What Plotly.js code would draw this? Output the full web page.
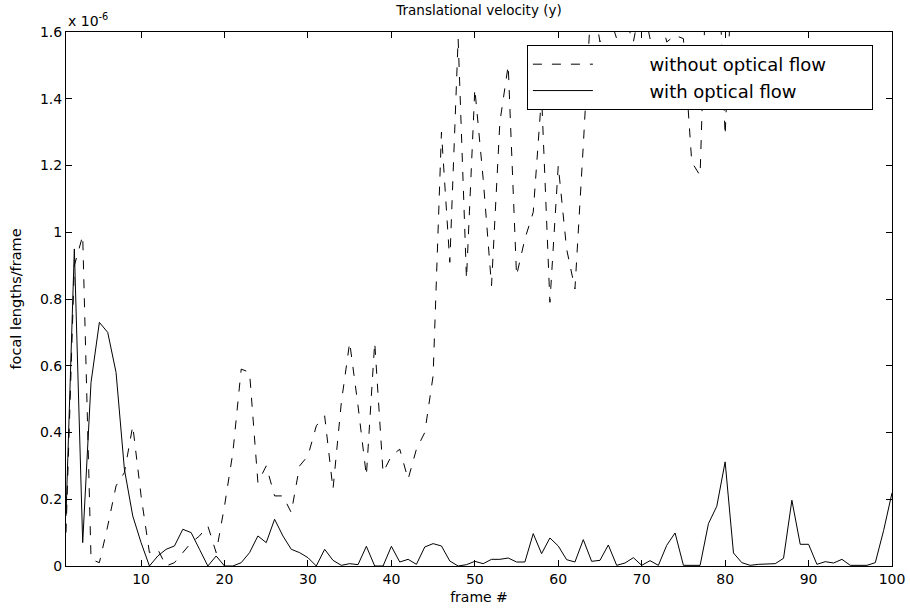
<!DOCTYPE html>
<html>
<head>
<meta charset="utf-8">
<script src="https://cdn.plot.ly/plotly-3.0.1.min.js"></script>
<style>html,body{margin:0;padding:0;background:#fff;}</style>
</head>
<body>
<div id="chart" style="width:910px;height:612px;"></div>
<script>
// frame numbers
var frames = [1,2,3,4,5,6,7,8,9,10,11,12,13,14,15,16,17,18,19,20,
  21,22,23,24,25,26,27,28,29,30,31,32,33,34,35,36,37,38,39,40,
  41,42,43,44,45,46,47,48,49,50,51,52,53,54,55,56,57,58,59,60,
  61,62,63,64,65,66,67,68,69,70,71,72,73,74,75,76,77,78,79,80,
  81,82,83,84,85,86,87,88,89,90,91,92,93,94,95,96,97,98,99,100];

// values in units of 1e-6 focal lengths/frame
var withoutFlow = [0.10,0.90,0.99,0.02,0.01,0.12,0.24,0.28,0.42,0.21,
  0.04,0.05,0.00,0.01,0.04,0.07,0.09,0.12,0.04,0.18,
  0.34,0.59,0.58,0.25,0.30,0.21,0.21,0.16,0.30,0.33,
  0.42,0.45,0.23,0.49,0.67,0.48,0.27,0.67,0.28,0.33,
  0.35,0.26,0.35,0.40,0.57,1.30,0.91,1.58,0.86,1.43,
  1.16,0.84,1.33,1.50,0.87,0.98,1.06,1.41,0.79,1.20,
  0.95,0.83,1.26,1.72,1.57,1.66,1.58,1.64,1.57,1.70,
  1.58,1.68,1.57,1.59,1.58,1.21,1.17,2.00,1.95,1.29,
  1.90,2.10,1.85,2.30,2.00,1.90,2.20,2.40,1.95,2.10,
  2.30,1.80,2.00,2.20,1.90,2.10,2.50,2.20,1.95,2.05];

var withFlow = [0.15,0.95,0.07,0.55,0.73,0.70,0.58,0.29,0.15,0.07,
  0.00,0.03,0.05,0.06,0.11,0.10,0.05,0.00,0.03,0.00,
  0.00,0.01,0.04,0.09,0.07,0.14,0.09,0.05,0.04,0.025,
  0.00,0.05,0.017,0.002,0.007,0.004,0.059,0.00,0.00,0.059,
  0.012,0.02,0.005,0.057,0.067,0.06,0.015,0.00,0.004,0.014,
  0.007,0.02,0.02,0.024,0.012,0.012,0.097,0.037,0.084,0.06,
  0.019,0.012,0.079,0.014,0.017,0.063,0.002,0.009,0.025,0.002,
  0.016,0.002,0.062,0.099,0.002,0.003,0.002,0.127,0.179,0.312,
  0.039,0.01,0.002,0.005,0.006,0.007,0.023,0.197,0.065,0.065,
  0.005,0.013,0.009,0.02,0.002,0.001,0.002,0.01,0.107,0.219];

var NB = '\u00a0';
var seriesNames = [NB.repeat(9) + 'without optical flow' + NB.repeat(7),
                   NB.repeat(9) + 'with optical flow'];
var xTicks = [10,20,30,40,50,60,70,80,90,100];
var yTicks = [0,0.2,0.4,0.6,0.8,1,1.2,1.4,1.6];
var yTickText = ['0','0.2','0.4','0.6','0.8','1','1.2','1.4','1.6'];

var FONT = 'DejaVu Sans, Liberation Sans, Arial, sans-serif';

var traces = [
  {x: frames, y: withoutFlow, name: seriesNames[0], type: 'scatter', mode: 'lines',
   line: {color: '#000', width: 1, dash: '9px,10px'}},
  {x: frames, y: withFlow, name: seriesNames[1], type: 'scatter', mode: 'lines',
   line: {color: '#000', width: 1}}
];

var axisCommon = {
  showline: true, linecolor: '#000', linewidth: 1, mirror: 'allticks',
  ticks: 'inside', ticklen: 6, tickcolor: '#000', tickwidth: 1,
  showgrid: false, zeroline: false,
  tickfont: {family: FONT, size: 14, color: '#000'}
};

var layout = {
  width: 910, height: 612,
  margin: {l: 66, r: 18, t: 32, b: 46, pad: 0},
  paper_bgcolor: '#fff', plot_bgcolor: '#fff',
  font: {family: FONT, color: '#000'},
  title: {text: 'Translational velocity (y)', font: {family: FONT, size: 13.5, color: '#000'},
          x: 0.5, xref: 'paper', xanchor: 'center', y: 0.984, yref: 'container', yanchor: 'middle'},
  xaxis: Object.assign({}, axisCommon, {
    range: [1, 100], tickmode: 'array', tickvals: xTicks,
    title: {text: 'frame #', font: {family: FONT, size: 14, color: '#000'}, standoff: 6}
  }),
  yaxis: Object.assign({}, axisCommon, {
    range: [0, 1.6], tickmode: 'array', tickvals: yTicks, ticktext: yTickText,
    title: {text: 'focal lengths/frame', font: {family: FONT, size: 14.5, color: '#000'}, standoff: 14}
  }),
  showlegend: true,
  legend: {x: 0.558, y: 0.9757, xanchor: 'left', yanchor: 'top',
           bgcolor: '#fff', bordercolor: '#000', borderwidth: 1,
           font: {family: FONT, size: 18, color: '#000'},
           itemwidth: 60, tracegroupgap: 0},
  annotations: [
    {text: 'x 10<sup>-6</sup>', xref: 'paper', yref: 'paper', x: 0, y: 1.0225,
     xanchor: 'left', yanchor: 'middle', showarrow: false,
     font: {family: FONT, size: 14, color: '#000'}}
  ]
};

Plotly.newPlot('chart', traces, layout, {displayModeBar: false, staticPlot: true});
</script>
</body>
</html>
